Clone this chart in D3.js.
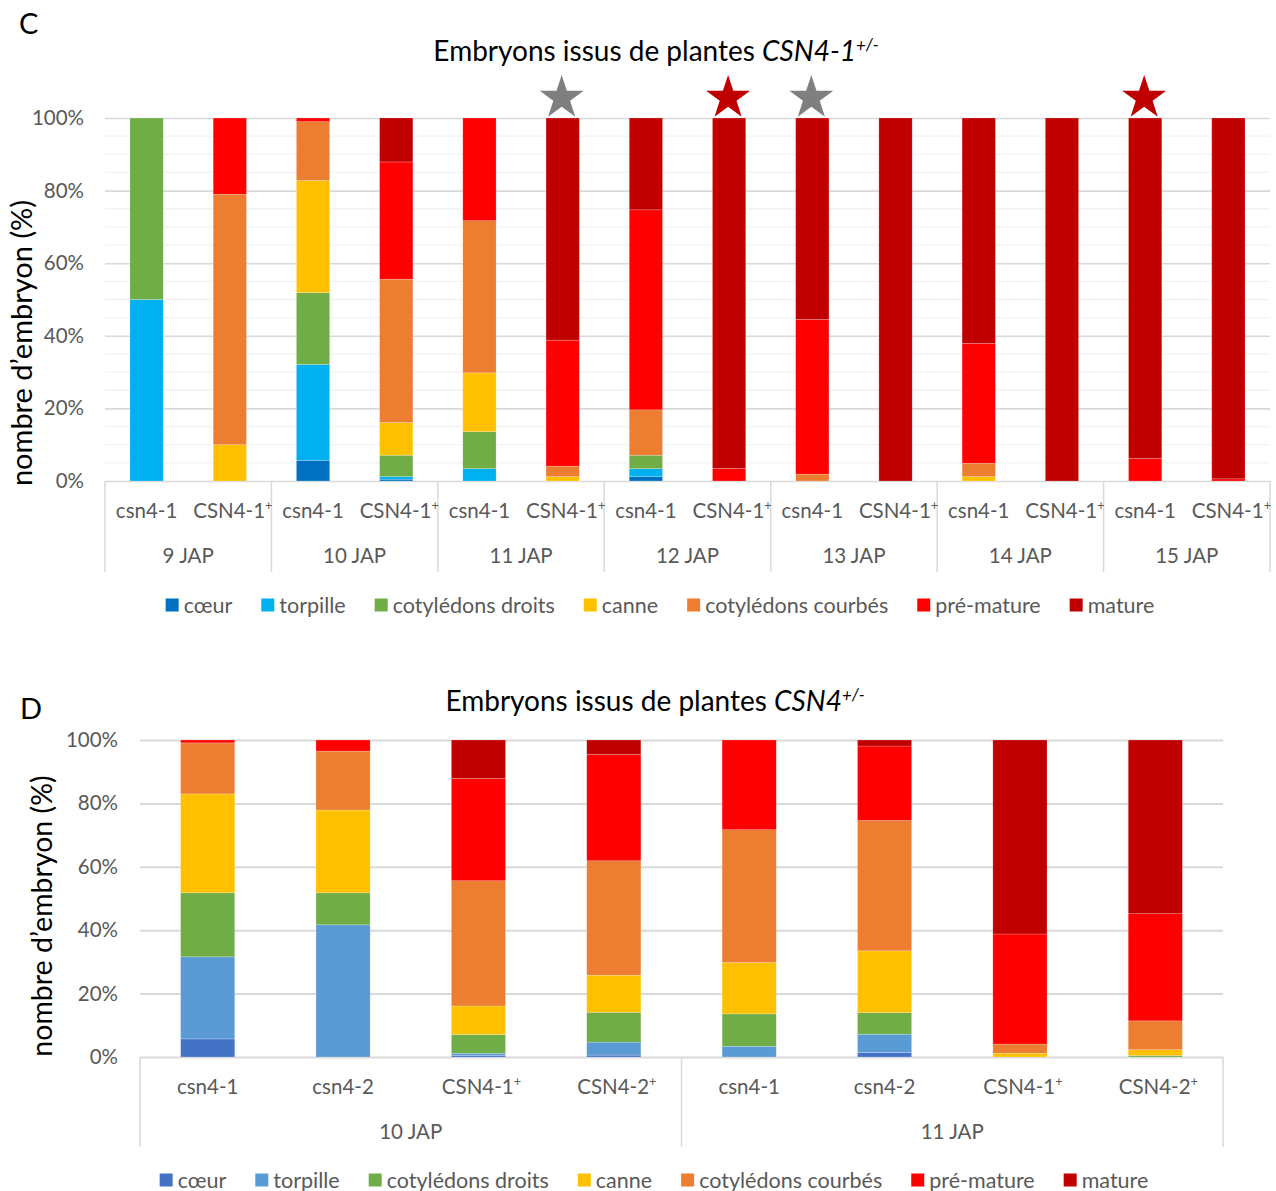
<!DOCTYPE html>
<html><head><meta charset="utf-8">
<script src="https://cdn.jsdelivr.net/npm/d3@7"></script>
<style>
body{margin:0;background:#fff;}
svg{display:block;font-family:Lato,"Noto Sans",sans-serif;}
</style></head>
<body>
<svg id="chart" width="1276" height="1191"></svg>
<script>
// ---------- DATA ----------
const stages = ["cœur","torpille","cotylédons droits","canne","cotylédons courbés","pré-mature","mature"];
const colorsC = ["#0070C0","#00B0F0","#70AD47","#FFC000","#ED7D31","#FF0000","#C00000"];
const colorsD = ["#4472C4","#5B9BD5","#70AD47","#FFC000","#ED7D31","#FF0000","#C00000"];

// Panel C
const daysC = ["9 JAP","10 JAP","11 JAP","12 JAP","13 JAP","14 JAP","15 JAP"];
const genotypesC = ["csn4-1","CSN4-1"];
const supC = ["","+"];
const coeurC    = [0, 0, 5.7, 0.5, 0, 0, 1.2, 0, 0, 0, 0, 0, 0, 0];
const torpilleC = [50, 0, 26.4, 0.7, 3.4, 0, 2.2, 0, 0, 0, 0, 0, 0, 0];
const droitsC   = [50, 0, 19.8, 5.9, 10.2, 0, 3.7, 0, 0, 0, 0, 0, 0, 0];
const canneC    = [0, 10, 30.9, 9.0, 16.2, 1.2, 0, 0, 0, 0, 1.2, 0, 0, 0];
const courbesC  = [0, 69, 16.2, 39.5, 41.9, 2.9, 12.5, 0, 1.9, 0, 3.7, 0, 0, 0];
const prematC   = [0, 21, 1.0, 32.3, 28.3, 34.7, 55.1, 3.5, 42.6, 0, 33.0, 0, 6.2, 0.6];
const matureC   = [0, 0, 0, 12.1, 0, 61.2, 25.3, 96.5, 55.5, 100, 62.1, 100, 93.8, 99.4];
const starBarsC   = [5, 7, 8, 12];
const starColorsC = ["#7F7F7F","#C00000","#7F7F7F","#C00000"];

// Panel D
const daysD = ["10 JAP","11 JAP"];
const genotypesD = ["csn4-1","csn4-2","CSN4-1","CSN4-2"];
const supD = ["","","+","+"];
const coeurD    = [5.7, 0, 0.5, 0.6, 0, 1.4, 0, 0];
const torpilleD = [25.9, 41.7, 0.7, 4.1, 3.4, 5.8, 0, 0];
const droitsD   = [20.2, 10.1, 5.9, 9.4, 10.2, 6.8, 0, 0.5];
const canneD    = [31.2, 26.1, 9.0, 11.7, 16.2, 19.5, 1.2, 1.8];
const courbesD  = [16.1, 18.6, 39.5, 36.1, 41.9, 41.1, 2.9, 9.1];
const prematD   = [0.9, 3.5, 32.3, 33.6, 28.3, 23.5, 34.7, 33.8];
const matureD   = [0, 0, 12.1, 4.5, 0, 1.9, 61.2, 54.8];

const yTicks = [0,20,40,60,80,100];

// ---------- DRAW ----------
const svg = d3.select("#chart");
const txtGrey = "#595959";

function buildRows(days, genos, sups, series){
  const rows = [];
  days.forEach((d,di)=>genos.forEach((g,gi)=>{
    const i = di*genos.length+gi;
    const r = {key:d+"|"+g, day:d, geno:g, sup:sups[gi]};
    stages.forEach((s,si)=>r[s]=series[si][i]);
    rows.push(r);
  }));
  return rows;
}

function panel(opt){
  const rows = buildRows(opt.days, opt.genos, opt.sups, opt.series);
  const g = svg.append("g");
  const x = d3.scaleBand().domain(rows.map(r=>r.key)).range([opt.x0,opt.x1]);
  const y = d3.scaleLinear().domain([0,100]).range([opt.yb,opt.yt]);
  const bw = x.step()*opt.barFrac;

  // minor grid
  if(opt.minor){
    g.append("g").selectAll("line").data(d3.range(5,100,5).filter(v=>v%20))
      .join("line").attr("x1",opt.x0).attr("x2",opt.x1)
      .attr("y1",d=>y(d)).attr("y2",d=>y(d))
      .attr("stroke","#F2F2F2").attr("stroke-width",1.3);
  }
  // major grid via axis
  const ga = g.append("g").attr("transform",`translate(${opt.x0},0)`)
    .call(d3.axisLeft(y).tickValues(yTicks).tickSize(-(opt.x1-opt.x0)).tickFormat(d=>d+"%"));
  ga.select(".domain").remove();
  ga.selectAll(".tick line").attr("stroke","#D9D9D9").attr("stroke-width",opt.gridW);
  ga.selectAll(".tick text").attr("x",opt.tickX-opt.x0).attr("fill",txtGrey)
    .style("font-size",opt.tickFs+"px").style("font-family","Lato");

  // stacked bars
  const stack = d3.stack().keys(stages)(rows);
  g.append("g").selectAll("g").data(stack).join("g")
    .attr("fill",(d,i)=>opt.colors[i])
    .selectAll("rect").data(d=>d.filter(p=>p[1]-p[0]>0)).join("rect")
    .attr("x",d=>x(d.data.key)+(x.step()-bw)/2)
    .attr("width",bw)
    .attr("y",d=>y(d[1]))
    .attr("height",d=>y(d[0])-y(d[1]))
    .attr("stroke","#ffffff").attr("stroke-opacity",0.35).attr("stroke-width",0.6);

  // category separators
  const groupBounds = opt.days.map(d=>x(d+"|"+opt.genos[0]));
  groupBounds.push(opt.x1);
  g.append("g").selectAll("line").data(groupBounds).join("line")
    .attr("x1",d=>d).attr("x2",d=>d).attr("y1",opt.yb).attr("y2",opt.sepBottom)
    .attr("stroke","#D9D9D9").attr("stroke-width",1.5);

  // category labels
  const lab = g.append("g").selectAll("text").data(rows).join("text")
    .attr("x",d=>x(d.key)+x.step()/2 + (d.sup?3:0)).attr("y",opt.labY)
    .attr("text-anchor","middle").attr("fill",txtGrey).style("font-size",opt.fs+"px");
  lab.append("tspan").text(d=>d.geno);
  lab.filter(d=>d.sup).append("tspan").text(d=>d.sup)
    .attr("dy",-8).style("font-size",(opt.fs*0.62)+"px");

  // group labels
  g.append("g").selectAll("text").data(opt.days).join("text")
    .attr("x",d=>{const a=x(d+"|"+opt.genos[0]); return a+x.step()*opt.genos.length/2;})
    .attr("y",opt.grpY).attr("text-anchor","middle").attr("fill",txtGrey)
    .style("font-size",opt.fs+"px").text(d=>d);

  // y title
  g.append("text").attr("transform",`translate(${opt.ytX},${opt.ytY}) rotate(-90)`)
    .attr("text-anchor","middle").attr("fill","#000").style("font-size",opt.ytFs+"px")
    .text("nombre d’embryon (%)");

  // title
  const t = g.append("text").attr("x",opt.titleX).attr("y",opt.titleY).attr("text-anchor","middle")
    .style("font-size",opt.titleFs+"px").attr("fill","#000");
  t.append("tspan").text("Embryons issus de plantes ");
  t.append("tspan").text(opt.titleGene).style("font-style","italic");
  t.append("tspan").text("+/-").style("font-style","italic").style("font-size",(opt.titleFs*0.6)+"px").attr("dy",-10);

  // panel letter
  g.append("text").attr("x",opt.letterX).attr("y",opt.letterY).style("font-size","29px")
    .attr("fill","#000").text(opt.letter);

  // legend
  const lg = g.append("g");
  let cx = 0;
  stages.forEach((s,i)=>{
    const it = lg.append("g").attr("transform",`translate(${cx},0)`);
    it.append("rect").attr("x",0).attr("y",-6.5).attr("width",13).attr("height",13).attr("fill",opt.colors[i]);
    const tx = it.append("text").attr("x",18).attr("y",7.5).attr("fill",txtGrey)
      .style("font-size",opt.legFs+"px").text(s);
    cx += 18 + tx.node().getComputedTextLength() + opt.legGap;
  });
  const total = cx - opt.legGap;
  lg.attr("transform",`translate(${opt.legCx-total/2},${opt.legY})`);

  return {x,y,bw};
}

const pc = panel({
  days:daysC, genos:genotypesC, sups:supC,
  series:[coeurC,torpilleC,droitsC,canneC,courbesC,prematC,matureC],
  colors:colorsC, x0:105, x1:1270, yt:118, yb:481, barFrac:0.4, minor:true, gridW:1.6,
  tickX:84, tickFs:20.5, fs:20.5, legFs:21.5, labY:518, grpY:563, sepBottom:572,
  ytX:32, ytY:343, ytFs:29, titleX:656, titleY:61, titleFs:28, titleGene:"CSN4-1",
  letter:"C", letterX:19, letterY:34, legCx:660, legY:605, legGap:29
});

// stars
const starPath = d3.symbol().type(d3.symbolStar).size(600)();
svg.append("g").selectAll("path").data(starBarsC).join("path")
  .attr("d",starPath)
  .attr("transform",i=>{
    const key = daysC[Math.floor(i/2)]+"|"+genotypesC[i%2];
    return `translate(${pc.x(key)+pc.x.step()/2-1},${98})`;
  })
  .attr("fill",(d,i)=>starColorsC[i]);

panel({
  days:daysD, genos:genotypesD, sups:supD,
  series:[coeurD,torpilleD,droitsD,canneD,courbesD,prematD,matureD],
  colors:colorsD, x0:140, x1:1223, yt:740, yb:1057, barFrac:0.4, minor:false, gridW:2,
  tickX:118, tickFs:20.5, fs:20.5, legFs:21.5, labY:1094, grpY:1139, sepBottom:1147,
  ytX:52, ytY:916, ytFs:28.5, titleX:655, titleY:711, titleFs:28, titleGene:"CSN4",
  letter:"D", letterX:20, letterY:719, legCx:654, legY:1180, legGap:29
});
</script>
</body></html>
